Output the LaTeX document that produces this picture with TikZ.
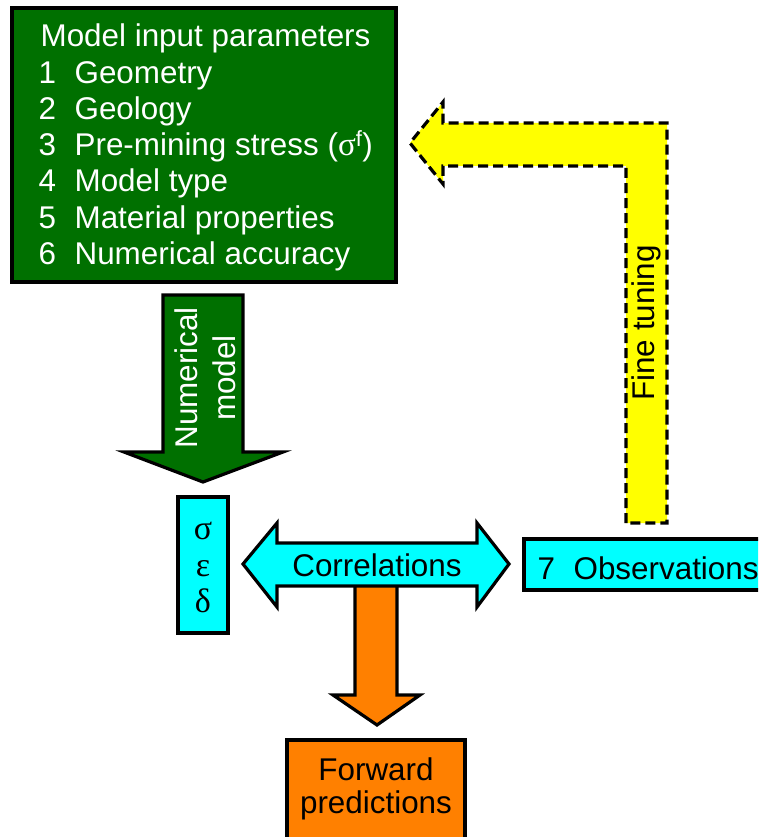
\documentclass[tikz,border=0pt]{standalone}
\usepackage{fontspec}
\setmainfont{Liberation Sans}
\newfontfamily\grk{Liberation Serif}
\definecolor{dgreen}{RGB}{0,112,0}
\definecolor{cyanc}{RGB}{0,255,255}
\definecolor{yel}{RGB}{255,255,0}
\definecolor{orng}{RGB}{255,128,0}
\begin{document}
\begin{tikzpicture}[x=1pt,y=-1pt,line width=3.2pt,line join=miter,
  txt/.style={font=\fontsize{31.4}{37}\selectfont,inner sep=0pt},
  wtxt/.style={txt,text=white},
  solidshape/.style={draw=black},
  dashshape/.style={draw=black,dash pattern=on 10pt off 5pt,fill=yel}]
\useasboundingbox (0,0) rectangle (758,837);
\clip (0,0) rectangle (758,837);

% green input box
\draw[solidshape,fill=dgreen] (12,8) rectangle (396,282);
\node[wtxt,anchor=base west] (title) at (39,47) {Model input parameters};
\foreach \n/\t/\y in {1/Geometry/84,2/Geology/120,3/{Pre-mining stress ({\grk\fontsize{33}{36}\selectfont σ}\textsuperscript{f})}/156,4/Model type/192,5/Material properties/228,6/Numerical accuracy/264}{
  \node[wtxt,anchor=base west] (num\n) at (37,\y) {\n};
  \node[wtxt,anchor=base west] (item\n) at (73,\y) {\t};
}

% green arrow
\draw[solidshape,fill=dgreen] (163,295) -- (243,295) -- (243,452) -- (283,452) -- (203,482) -- (124,452) -- (163,452) -- cycle;
\node[wtxt,rotate=90,align=center,font=\fontsize{31.4}{38}\selectfont] (nummodel) at (205,378) {Numerical\\model};

% yellow dashed arrow
\draw[dashshape] (626,523) -- (626,166) -- (443,166) -- (443,184) -- (410,143) -- (443,102) -- (443,123) -- (667,123) -- (667,523) -- cycle;
\node[txt,rotate=90,anchor=base] (fine) at (654,323) {Fine tuning};

% sigma box
\draw[solidshape,fill=cyanc] (178,497) rectangle (228,633);
\node[txt,anchor=base,font=\grk\fontsize{34}{36}\selectfont] (sig) at (203,539) {σ};
\node[txt,anchor=base,font=\grk\fontsize{34}{36}\selectfont] (eps) at (203,576) {ε};
\node[txt,anchor=base,font=\grk\fontsize{34}{36}\selectfont] (del) at (203,612) {δ};

% orange arrow
\draw[solidshape,fill=orng] (355,580) -- (397,580) -- (397,695) -- (420,695) -- (377,725) -- (333,695) -- (355,695) -- cycle;

% cyan double arrow
\draw[solidshape,fill=cyanc] (243,564) -- (277,523) -- (277,543) -- (477,543) -- (477,523) -- (509,564) -- (477,607) -- (477,586) -- (277,586) -- (277,607) -- cycle;
\node[txt,anchor=base] (corr) at (377,576) {Correlations};

% observations box
\draw[solidshape,fill=cyanc] (524,539) rectangle (780,590);
\node[txt,anchor=base west] (obs7) at (536,579) {7};
\node[txt,anchor=base west] (obs) at (572,579) {Observations};

% forward predictions box
\draw[solidshape,fill=orng] (287,740) rectangle (465,860);
\node[txt,anchor=base] (fwd1) at (376,780) {Forward};
\node[txt,anchor=base] (fwd2) at (376,813) {predictions};
\end{tikzpicture}
\end{document}
